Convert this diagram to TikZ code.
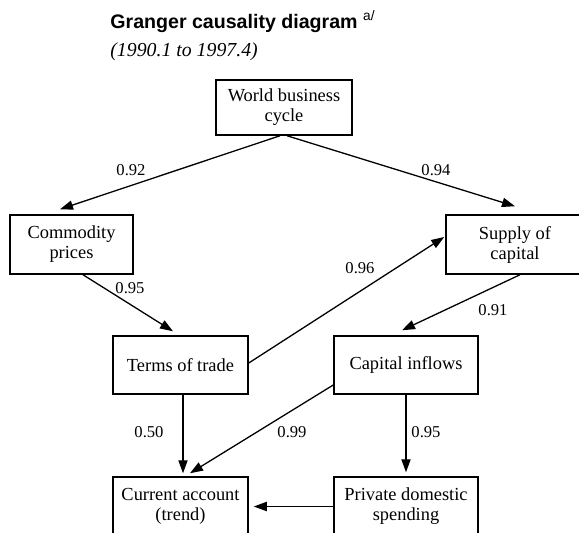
\documentclass[tikz,border=0pt]{standalone}
\usepackage{fontspec}
\setmainfont{Liberation Serif}
\newfontfamily\titlefont{Liberation Sans}
\usetikzlibrary{arrows.meta, positioning}

\begin{document}
\begin{tikzpicture}[x=0.5pt, y=-0.5pt,
  box/.style={draw, line width=0.75pt, align=center, inner sep=0pt, font=\rmfamily\fontsize{9.2}{10}\selectfont},
  link/.style={-{Triangle[length=6.5pt,width=4.6pt]}, line width=0.65pt},
  val/.style={inner sep=0pt, font=\rmfamily\fontsize{8.3}{10}\selectfont}]
\useasboundingbox (0,0) rectangle (579,532);
% heading
\node[anchor=base west, inner sep=0pt, font=\titlefont\bfseries\fontsize{9.8}{12}\selectfont] (title) at (110,28) {Granger causality diagram \textsuperscript{\mdseries a/}};
\node[anchor=base west, inner sep=0pt, font=\rmfamily\itshape\fontsize{9.9}{12}\selectfont] (period) at (110,56) {(1990.1 to 1997.4)};
% boxes
\node[box, minimum width=68pt, minimum height=27.5pt] (wbc) at (284,107.5) {World business\\cycle};
\node[box, minimum width=61.5pt, minimum height=29.5pt] (comm) at (71.5,244.5) {Commodity\\prices};
\node[box, minimum width=69pt, minimum height=29.5pt] (supply) at (515,244.5) {Supply of\\capital};
\node[box, minimum width=67.5pt, minimum height=29pt] (tot) at (180.5,365) {Terms of trade};
\node[box, minimum width=72pt, minimum height=29pt] (capin) at (406,365) {Capital inflows};
\node[box, minimum width=67.5pt, minimum height=29.5pt] (curacc) at (180.5,506.5) {Current account\\(trend)};
\node[box, minimum width=72pt, minimum height=29.5pt] (pds) at (406,506.5) {Private domestic\\spending};
% links
\draw[link] ([xshift=-2pt]wbc.south) -- ([xshift=-5.75pt,yshift=2.5pt]comm.north);
\draw[link] ([xshift=1.5pt]wbc.south) -- ([yshift=4pt]supply.north);
\draw[link] ([xshift=5.75pt]comm.south) -- ([xshift=-3.75pt,yshift=2pt]tot.north);
\draw[link] ([yshift=1pt]tot.east) -- ([xshift=-0.5pt,yshift=3.75pt]supply.west);
\draw[link] ([xshift=2.5pt]supply.south) -- ([xshift=-2pt,yshift=2.5pt]capin.north);
\draw[link] ([xshift=1.25pt]tot.south) -- ([xshift=1.25pt,yshift=1.5pt]curacc.north);
\draw[link] ([yshift=-10pt]capin.west) -- ([xshift=4.75pt,yshift=1.5pt]curacc.north);
\draw[link] (capin.south) -- ([yshift=2pt]pds.north);
\draw[link] (pds.west) -- ([xshift=2.5pt]curacc.east);
% values
\node[val] (v1) at (131,170) {0.92};
\node[val] (v2) at (436,170) {0.94};
\node[val] (v3) at (130,288) {0.95};
\node[val] (v4) at (360,268) {0.96};
\node[val] (v5) at (493,310) {0.91};
\node[val] (v6) at (149,432) {0.50};
\node[val] (v7) at (292,432) {0.99};
\node[val] (v8) at (426,432) {0.95};
\end{tikzpicture}
\end{document}
